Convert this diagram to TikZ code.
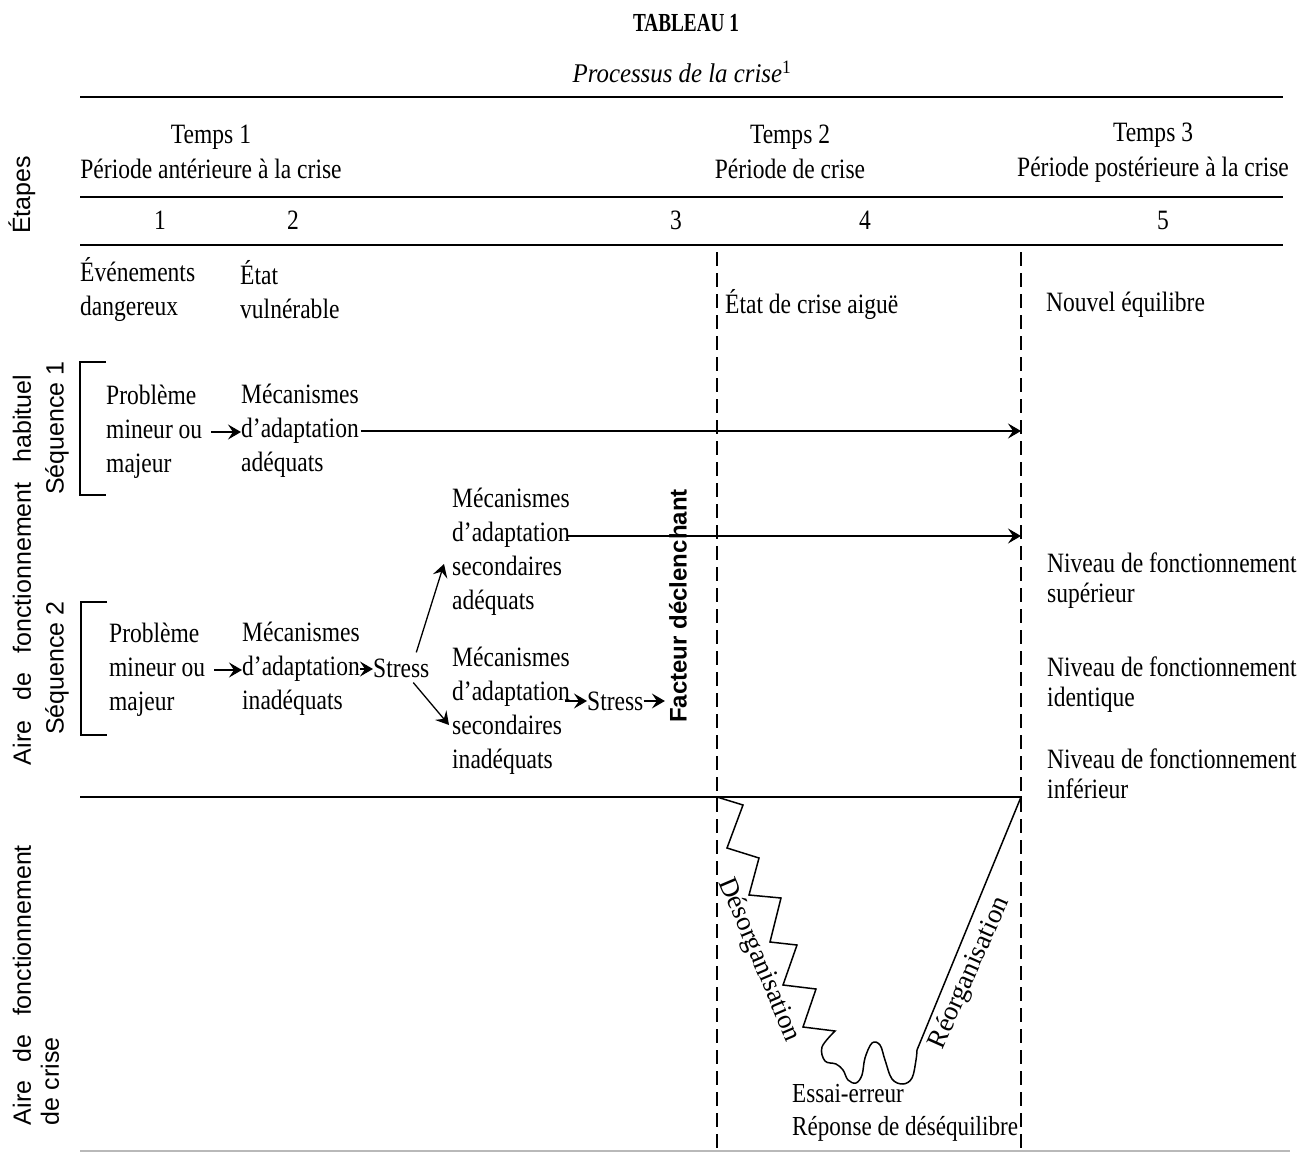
\documentclass[tikz,border=0pt]{standalone}
\usepackage{fontspec}
\setmainfont{Liberation Serif}[FakeStretch=0.84]
\newfontfamily\plainserif{Liberation Serif}
\newfontfamily\subtitlefont{Liberation Serif}[FakeStretch=0.92]
\newfontfamily\titlefont{Liberation Serif}[FakeStretch=0.74]
\setsansfont{Liberation Sans}
\usetikzlibrary{arrows.meta,calc}

\begin{document}
\begin{tikzpicture}[x=1pt,y=-1pt,
  txt/.style={inner sep=0pt, font=\fontsize{28}{34}\selectfont, align=left, anchor=west},
  ctxt/.style={inner sep=0pt, font=\fontsize{28}{35}\selectfont, align=center},
  side/.style={inner sep=0pt, font=\sffamily\fontsize{25}{28}\selectfont, rotate=90},
  rule/.style={line width=1.8pt},
  guide/.style={line width=2.2pt, dash pattern=on 14pt off 7pt},
  arr/.style={line width=1.3pt, -{Stealth[length=13pt,width=15pt,inset=5pt]}},
  slant/.style={inner sep=0pt, font=\plainserif\fontsize{27}{30}\selectfont},
]
\useasboundingbox (0,0) rectangle (1306,1153);
\fill[white] (0,0) rectangle (1306,1153);

% titles
\node[inner sep=0pt, font=\titlefont\bfseries\fontsize{26}{28}\selectfont] (title) at (686,23) {TABLEAU 1};
\node[inner sep=0pt, font=\subtitlefont\itshape\fontsize{27}{30}\selectfont] (subtitle) at (682,72) {Processus de la crise\textsuperscript{\upshape 1}};

% table rules
\draw[rule] (80,97) -- (1283,97);
\draw[rule] (80,197) -- (1283,197);
\draw[rule] (80,245) -- (1283,245);
\draw[line width=1.5pt] (80,797) -- (1022,797);
\draw[line width=2pt, gray!55] (80,1151) -- (1290,1151);

% dashed guides of the crisis period
\coordinate (dA) at (717,252);
\coordinate (dB) at (1021,252);
\draw[guide] (dA) -- (717,1153);
\draw[guide] (dB) -- (1021,1153);

% header
\node[ctxt] (t1) at (211,152) {Temps 1\\Période antérieure à la crise};
\node[ctxt] (t2) at (790,152) {Temps 2\\Période de crise};
\node[ctxt] (t3) at (1153,153) {Temps 3\\Période postérieure à la crise};

\node[ctxt] (n1) at (160,220) {1};
\node[ctxt] (n2) at (293,220) {2};
\node[ctxt] (n3) at (676,220) {3};
\node[ctxt] (n4) at (865,220) {4};
\node[ctxt] (n5) at (1163,220) {5};

\node[txt] (ev) at (80,290) {Événements\\dangereux};
\node[txt] (vul) at (240,290) {État\\vulnérable};
\node[txt] (aig) at (725,305) {État de crise aiguë};
\node[txt] (neq) at (1046,305) {Nouvel équilibre};

% side labels
\node[side] (etapes) at (22,195) {Étapes};
\node[side] (aireH) at (22,570) {\makebox[390pt][s]{Aire de fonctionnement habituel}};
\node[side] (seq1) at (57,428) {Séquence 1};
\node[side] (seq2) at (57,668) {Séquence 2};
\node[side, align=left] (aireC) at (36,985) {\makebox[280pt][s]{Aire de fonctionnement}\\de crise};

% brackets
\draw[line width=1.3pt] (106,362) -- (80,362) -- (80,495) -- (106,495);
\draw[line width=1.3pt] (107,602) -- (81,602) -- (81,735) -- (107,735);

% sequence 1
\node[txt] (prob1) at (106,432) {Problème\\mineur ou\\majeur};
\node[txt] (mec1) at (241,431) {Mécanismes\\d’adaptation\\adéquats};
\draw[arr, shorten <=9pt] (prob1.east) -- (prob1.east -| mec1.west);
\draw[arr, shorten <=2pt] (mec1.east) -- (mec1.east -| dB);

% sequence 2
\node[txt] (prob2) at (109,670) {Problème\\mineur ou\\majeur};
\node[txt] (mec2) at (242,669) {Mécanismes\\d’adaptation\\inadéquats};
\node[txt] (st1) at (373,668) {Stress};
\draw[arr, shorten <=9pt] (prob2.east) -- (prob2.east -| mec2.west);
\draw[arr] (mec2.east) -- (mec2.east -| st1.west);

\node[txt] (secA) at (452,552) {Mécanismes\\d’adaptation\\secondaires\\adéquats};
\node[txt] (secI) at (452,711) {Mécanismes\\d’adaptation\\secondaires\\inadéquats};
\draw[arr] ($(st1.north)+(15,-6)$) -- ($(secA.west)+(-8,12)$);
\draw[arr] ($(st1.south)+(12,5)$) -- ($(secI.west)+(-3,14)$);

\coordinate (secAout) at ($(secA.east)+(-2,-16)$);
\draw[arr] (secAout) -- (secAout -| dB);

\node[txt] (st2) at (587,701) {Stress};
\node[side, font=\sffamily\bfseries\fontsize{24}{28}\selectfont] (fac) at (678,606) {Facteur déclenchant};
\coordinate (secIout) at ($(secI.east)+(-5,-10)$);
\draw[arr] (secIout) -- (secIout -| st2.west);
\draw[arr, shorten >=4pt] (st2.east) -- (st2.east -| fac.north);

% levels after the crisis
\node[txt, font=\fontsize{28}{30}\selectfont] (nsup) at (1047,581) {Niveau de fonctionnement\\supérieur};
\node[txt, font=\fontsize{28}{30}\selectfont] (nid) at (1047,685) {Niveau de fonctionnement\\identique};
\node[txt, font=\fontsize{28}{30}\selectfont] (ninf) at (1047,774) {Niveau de fonctionnement\\inférieur};

% crisis curve
\coordinate (zA) at (717,797);
\coordinate (zB) at (1021,797);
\draw[line width=1.5pt, line join=miter]
  (zA) -- (743,805) -- (727,848) -- (759,858) -- (749,895) -- (781,898)
  -- (770,942) -- (797,945) -- (783,985) -- (816,989) -- (803,1027) -- (835,1031)
  -- plot[smooth, tension=0.6] coordinates {(835,1031) (822,1047) (825,1061) (836,1064)
     (843,1070) (848,1080) (856,1083) (862,1075) (865,1058) (872,1043) (880,1045)
     (885,1060) (892,1079) (903,1084) (912,1078) (916,1060) (917,1050)}
  -- (zB);

\node[slant, rotate=-67] (deso) at (759,960) {Désorganisation};
\node[slant, rotate=66] (reo) at (970,973) {Réorganisation};

\node[txt, font=\fontsize{27.5}{33}\selectfont] (ess) at (792,1113) {Essai-erreur\\Réponse de déséquilibre};
\end{tikzpicture}
\end{document}
